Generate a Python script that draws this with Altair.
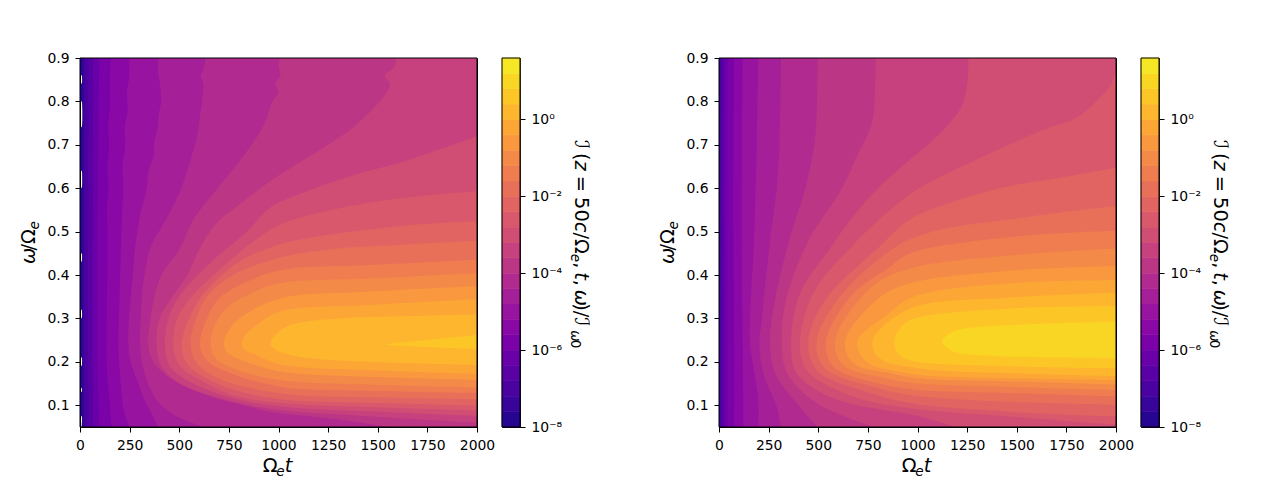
import math
import pandas as pd
import altair as alt

# colour levels are log10 of the intensity, one band every 0.4 decades
levels = [-8.0, -7.6, -7.2, -6.8, -6.4, -6.0, -5.6, -5.2, -4.8, -4.4, -4.0, -3.6,
          -3.2, -2.8, -2.4, -2.0, -1.6, -1.2, -0.8, -0.4, 0.0, 0.4, 0.8, 1.2, 1.6]
cbar_ticks = [-8, -6, -4, -2, 0]
cbar_labels = ["10⁻⁸", "10⁻⁶", "10⁻⁴", "10⁻²", "10⁰"]
x_ticks = [0, 250, 500, 750, 1000, 1250, 1500, 1750, 2000]
y_ticks = [0.1, 0.2, 0.3, 0.4, 0.5, 0.6, 0.7, 0.8, 0.9]

# contours as (omega, t): band k fills from t to the right edge
# left panel (simulation, rough contours)
L00 = [(0.05, 8), (0.075, 8), (0.076, 0), (0.13, 0), (0.131, 8), (0.14, 8), (0.141, 0), (0.19, 0), (0.191, 8),
       (0.21, 8), (0.211, 0), (0.3, 0), (0.301, 8), (0.32, 8), (0.321, 0), (0.43, 0), (0.431, 8), (0.45, 8),
       (0.451, 0), (0.6, 0), (0.601, 8), (0.64, 8), (0.641, 0), (0.74, 0), (0.741, 8), (0.8, 8), (0.801, 0),
       (0.84, 0), (0.841, 8), (0.86, 8), (0.861, 0), (0.9, 0)]
L01 = [(0.05, 12), (0.3, 11), (0.6, 12), (0.9, 12)]
L02 = [(0.05, 23), (0.3, 21), (0.6, 22), (0.9, 22)]
L03 = [(0.05, 43), (0.3, 40), (0.6, 41), (0.9, 42)]
L04 = [(0.05, 67), (0.25, 62), (0.6, 65), (0.9, 67)]
L05 = [(0.05, 97), (0.24, 87), (0.48, 87), (0.6, 90), (0.75, 93), (0.9, 97)]
L06 = [(0.05, 160), (0.1, 150), (0.2, 134), (0.3, 134), (0.48, 139), (0.55, 135), (0.6, 142), (0.65, 138),
       (0.7, 146), (0.75, 142), (0.8, 152), (0.85, 150), (0.9, 156)]
L07 = [(0.05, 248), (0.09, 220), (0.12, 210), (0.18, 200), (0.24, 193), (0.33, 198), (0.47, 206), (0.55, 212),
       (0.6, 218), (0.65, 214), (0.7, 228), (0.74, 224), (0.78, 240), (0.82, 236), (0.86, 248), (0.9, 247)]
L08 = [(0.05, 391), (0.08, 361), (0.11, 327), (0.14, 302), (0.17, 277), (0.2, 255), (0.24, 243), (0.3, 247),
       (0.35, 255), (0.4, 265), (0.462, 277), (0.536, 302), (0.6, 336), (0.64, 345), (0.674, 370), (0.71, 375),
       (0.74, 392), (0.766, 395), (0.8, 408), (0.84, 403), (0.87, 392), (0.9, 395)]
L09 = [(0.05, 618), (0.08, 465), (0.11, 390), (0.14, 352), (0.17, 328), (0.2, 312), (0.24, 302), (0.3, 305),
       (0.35, 312), (0.4, 325), (0.462, 353), (0.505, 403), (0.559, 470), (0.613, 520), (0.674, 562), (0.72, 590),
       (0.766, 604), (0.8, 615), (0.84, 621), (0.86, 608), (0.88, 626), (0.9, 630)]
L10 = [(0.05, 1552), (0.06, 1420), (0.07, 1250), (0.085, 957), (0.1, 823), (0.12, 655), (0.158, 470), (0.2, 370),
       (0.24, 344), (0.3, 355), (0.35, 375), (0.4, 410), (0.462, 504), (0.528, 571), (0.597, 688), (0.674, 823),
       (0.743, 923), (0.804, 974), (0.82, 1000), (0.84, 985), (0.86, 1010), (0.88, 1000), (0.9, 1007)]
L11 = [(0.06, 2000), (0.075, 1450), (0.089, 1007), (0.11, 760), (0.15, 504), (0.19, 410), (0.24, 386), (0.3, 400),
       (0.342, 453), (0.4, 540), (0.462, 604), (0.52, 688), (0.575, 840), (0.616, 957), (0.655, 1091), (0.718, 1310),
       (0.747, 1394), (0.81, 1528), (0.84, 1562), (0.86, 1535), (0.88, 1585), (0.9, 1595)]
L12 = [(0.075, 2000), (0.085, 1500), (0.097, 1007), (0.12, 740), (0.154, 554), (0.19, 452), (0.24, 428), (0.3, 445),
       (0.354, 504), (0.435, 672), (0.5, 840), (0.555, 957), (0.59, 1125), (0.632, 1393), (0.659, 1612),
       (0.693, 1831), (0.72, 2000)]
L13 = [(0.088, 2000), (0.095, 1500), (0.105, 1007), (0.125, 760), (0.158, 604), (0.195, 495), (0.24, 470), (0.3, 490),
       (0.346, 554), (0.427, 739), (0.48, 880), (0.515, 1000), (0.544, 1209), (0.567, 1460), (0.582, 1712),
       (0.593, 2000)]
L14 = [(0.099, 2000), (0.105, 1500), (0.114, 1007), (0.135, 780), (0.158, 655), (0.195, 540), (0.24, 512), (0.32, 571),
       (0.365, 638), (0.43, 800), (0.47, 1000), (0.486, 1158), (0.505, 1460), (0.517, 1712), (0.524, 2000)]
L15 = [(0.114, 2000), (0.118, 1500), (0.128, 1007), (0.164, 688), (0.2, 585), (0.24, 557), (0.3, 585), (0.354, 646),
       (0.4, 772), (0.44, 1007), (0.46, 1276), (0.47, 1628), (0.479, 2000)]
L16 = [(0.128, 2000), (0.133, 1500), (0.143, 1007), (0.177, 739), (0.205, 635), (0.24, 604), (0.3, 640), (0.346, 700),
       (0.38, 820), (0.411, 1007), (0.423, 1466), (0.435, 2000)]
L17 = [(0.141, 2000), (0.147, 1500), (0.158, 1007), (0.185, 772), (0.21, 680), (0.24, 658), (0.28, 675), (0.327, 745),
       (0.355, 850), (0.381, 1007), (0.392, 1466), (0.404, 2000)]
L18 = [(0.158, 2000), (0.165, 1500), (0.178, 1007), (0.2, 840), (0.22, 745), (0.24, 725), (0.27, 745), (0.304, 815),
       (0.346, 1007), (0.362, 1466), (0.375, 2000)]
L19 = [(0.172, 2000), (0.18, 1500), (0.194, 1007), (0.212, 907), (0.228, 830), (0.24, 814), (0.26, 830), (0.285, 890),
       (0.316, 1007), (0.331, 1466), (0.344, 2000)]
L20 = [(0.193, 2000), (0.204, 1293), (0.216, 1058), (0.228, 985), (0.24, 960), (0.262, 985), (0.285, 1058),
       (0.3, 1300), (0.305, 1600), (0.31, 2000)]
L21 = [(0.229, 2000), (0.234, 1750), (0.24, 1545), (0.245, 1640), (0.252, 1780), (0.262, 2000)]

# right panel (model, smooth contours)
R00 = [(0.05, 0), (0.9, 0)]
R01 = [(0.05, 2), (0.9, 2)]
R02 = [(0.05, 5), (0.9, 5)]
R03 = [(0.05, 13), (0.9, 13)]
R04 = [(0.05, 25), (0.9, 25)]
R05 = [(0.05, 44), (0.24, 42), (0.9, 44)]
R06 = [(0.05, 77), (0.24, 77), (0.48, 72), (0.9, 76)]
R07 = [(0.05, 123), (0.24, 119), (0.48, 114), (0.9, 119)]
R08 = [(0.05, 198), (0.11, 198), (0.17, 180), (0.24, 156), (0.3, 156), (0.48, 176), (0.7, 190), (0.9, 198)]
R09 = [(0.05, 312), (0.097, 290), (0.174, 223), (0.24, 203), (0.296, 215), (0.48, 257), (0.6, 290), (0.7, 305),
       (0.9, 312)]
R10 = [(0.05, 495), (0.105, 391), (0.174, 282), (0.25, 257), (0.342, 282), (0.481, 354), (0.6, 435), (0.7, 480),
       (0.77, 492), (0.9, 497)]
R11 = [(0.05, 777), (0.105, 492), (0.174, 344), (0.247, 316), (0.35, 341), (0.481, 453), (0.6, 620), (0.674, 695),
       (0.75, 770), (0.82, 785), (0.9, 791)]
R12 = [(0.05, 1190), (0.074, 1012), (0.116, 576), (0.174, 391), (0.247, 363), (0.358, 408), (0.462, 560), (0.536, 677),
       (0.605, 811), (0.685, 1012), (0.705, 1063), (0.743, 1147), (0.789, 1222), (0.843, 1251), (0.9, 1256)]
R13 = [(0.055, 2000), (0.074, 1466), (0.093, 962), (0.12, 677), (0.181, 442), (0.247, 408), (0.358, 475), (0.462, 660),
       (0.586, 962), (0.666, 1298), (0.735, 1634), (0.76, 1790), (0.8, 1900), (0.84, 1975), (0.873, 1998),
       (0.9, 2010)]
R14 = [(0.074, 2000), (0.085, 1466), (0.105, 962), (0.131, 744), (0.181, 492), (0.247, 450), (0.342, 534), (0.462, 800),
       (0.528, 962), (0.574, 1214), (0.605, 1466), (0.624, 1718), (0.647, 2000)]
R15 = [(0.101, 2000), (0.108, 1466), (0.124, 962), (0.143, 777), (0.185, 534), (0.247, 492), (0.35, 609), (0.462, 880),
       (0.495, 1040), (0.513, 1214), (0.528, 1466), (0.544, 1718), (0.559, 2000)]
R16 = [(0.12, 2000), (0.128, 1466), (0.135, 1012), (0.15, 811), (0.189, 576), (0.247, 539), (0.358, 677), (0.415, 850),
       (0.45, 962), (0.479, 1298), (0.494, 1634), (0.502, 2000)]
R17 = [(0.135, 2000), (0.142, 1466), (0.15, 1012), (0.162, 845), (0.193, 626), (0.247, 584), (0.373, 770),
       (0.415, 962), (0.445, 1466), (0.461, 2000)]
R18 = [(0.147, 2000), (0.155, 1466), (0.162, 1012), (0.174, 861), (0.197, 677), (0.247, 635), (0.345, 800),
       (0.381, 962), (0.41, 1466), (0.421, 2000)]
R19 = [(0.158, 2000), (0.162, 1466), (0.17, 1012), (0.177, 912), (0.2, 744), (0.247, 697), (0.31, 850), (0.35, 980),
       (0.381, 1466), (0.388, 2000)]
R20 = [(0.167, 2000), (0.174, 1466), (0.185, 1012), (0.208, 811), (0.247, 772), (0.323, 962), (0.348, 1466),
       (0.359, 2000)]
R21 = [(0.185, 2000), (0.19, 1466), (0.204, 962), (0.22, 900), (0.244, 883), (0.27, 900), (0.296, 962), (0.323, 1466),
       (0.329, 2000)]
R22 = [(0.208, 2000), (0.212, 1466), (0.216, 1298), (0.224, 1180), (0.247, 1125), (0.27, 1180), (0.28, 1298),
       (0.285, 1466), (0.293, 2000)]

left_contours = [L00, L01, L02, L03, L04, L05, L06, L07, L08, L09, L10, L11, L12, L13, L14, L15, L16, L17, L18, L19,
                 L20, L21]
right_contours = [R00, R01, R02, R03, R04, R05, R06, R07, R08, R09, R10, R11, R12, R13, R14, R15, R16, R17, R18, R19,
                  R20, R21, R22]

plasma = alt.Scale(scheme=alt.SchemeParams(name="plasma", count=24), domain=list(range(24)))
FONT = "DejaVu Sans"
T = 19.4  # matplotlib 14pt
S = 13.6  # subscript size


def text_run(pieces, x, y, angle):
    # one axis title made of pieces: (text, italic, subscript, advance)
    rad = math.radians(angle)
    out = []
    for txt, italic, sub, adv in pieces:
        drop = 4 if sub else 0
        px = x - drop * math.sin(rad)
        py = y + drop * math.cos(rad)
        out.append(alt.Chart(alt.Data(values=[{}])).mark_text(
            text=txt, font=FONT, fontSize=S if sub else T, fontStyle="italic" if italic else "normal",
            angle=angle, align="left", baseline="alphabetic", color="black"
        ).encode(x=alt.value(px), y=alt.value(py)))
        x += adv * math.cos(rad)
        y += adv * math.sin(rad)
    return out


def frame(w, h):
    # black box on top of the colours
    return alt.Chart(alt.Data(values=[{}])).mark_rect(fillOpacity=0, stroke="black", strokeWidth=1).encode(
        x=alt.value(0), x2=alt.value(w), y=alt.value(0), y2=alt.value(h))


x_title = [("Ω", False, False, 13.5), ("e", True, True, 8.6), ("t", True, False, 8)]
y_title = [("ω", True, False, 13.4), ("/", False, False, 6.6), ("Ω", False, False, 14.4), ("e", True, True, 8.4)]
bar_title = [("ℐ", False, False, 13), ("(", False, False, 7.6), ("z", True, False, 15.2), ("=", False, False, 21.3),
             ("50", False, False, 24.7), ("c", True, False, 10.7), ("/", False, False, 6.5), ("Ω", False, False, 14.8),
             ("e", True, True, 8.4), (",", False, False, 10), ("t", True, False, 7.6), (",", False, False, 10),
             ("ω", True, False, 13.4), (")", False, False, 7.6), ("/", False, False, 6.5), ("ℐ", False, False, 13),
             ("ω", True, True, 9.4), ("0", False, True, 8.6)]


def panel(contours, curve):
    rows = []
    for k, line in enumerate(contours):
        for w, t in line:
            rows.append({"level": k, "w": w, "t": t, "end": 2000})
    df = pd.DataFrame(rows)
    base = alt.Chart(df).mark_area(orient="horizontal", clip=True, interpolate=curve).encode(
        x=alt.X("t:Q", scale=alt.Scale(domain=[0, 2000], nice=False),
                axis=alt.Axis(values=x_ticks, format="d", title=None, grid=False)),
        x2="end:Q",
        y=alt.Y("w:Q", scale=alt.Scale(domain=[0.05, 0.9], nice=False, zero=False),
                axis=alt.Axis(values=y_ticks, format=".1f", title=None, grid=False)),
        color=alt.Color("level:O", scale=plasma, legend=None),
    )
    return alt.layer(base, frame(397, 369), *text_run(x_title, 182.7, 413.7, 0),
                     *text_run(y_title, -45, 206, 270)).properties(width=397, height=369)


def colorbar():
    df = pd.DataFrame({"lo": levels[:-1], "hi": levels[1:], "level": list(range(24))})
    label_map = ", ".join(f"'{t}': '{s}'" for t, s in zip(cbar_ticks, cbar_labels))
    bar = alt.Chart(df).mark_rect(strokeWidth=0.6).encode(
        y=alt.Y("lo:Q", scale=alt.Scale(domain=[-8, 1.6], nice=False, zero=False),
                axis=alt.Axis(orient="right", values=cbar_ticks, title=None, grid=False,
                              labelExpr="{" + label_map + "}[datum.value]")),
        y2="hi:Q",
        color=alt.Color("level:O", scale=plasma, legend=None),
        stroke=alt.Stroke("level:O", scale=plasma, legend=None),
    )
    return alt.layer(bar, frame(18, 369), *text_run(bar_title, 73, 82, 90)).properties(width=18, height=369)


left = alt.hconcat(panel(left_contours, "catmull-rom"), colorbar(), spacing=25, bounds="flush")
right = alt.hconcat(panel(right_contours, "catmull-rom"), colorbar(), spacing=25, bounds="flush")

chart = alt.hconcat(left, right, spacing=65).resolve_scale(color="shared", stroke="shared").properties(
    padding={"left": 10, "top": 42, "right": 5, "bottom": 5}
).configure(font=FONT).configure_view(stroke="black", strokeWidth=1).configure_axis(
    domainColor="black", tickColor="black", labelColor="black", labelFont=FONT, labelFontSize=13.9,
    tickSize=5, labelPadding=6, domainWidth=1, tickWidth=1, labelOverlap=False, labelFlush=False
)

chart.save("out.html", embed_options={"renderer": "svg", "actions": False})
